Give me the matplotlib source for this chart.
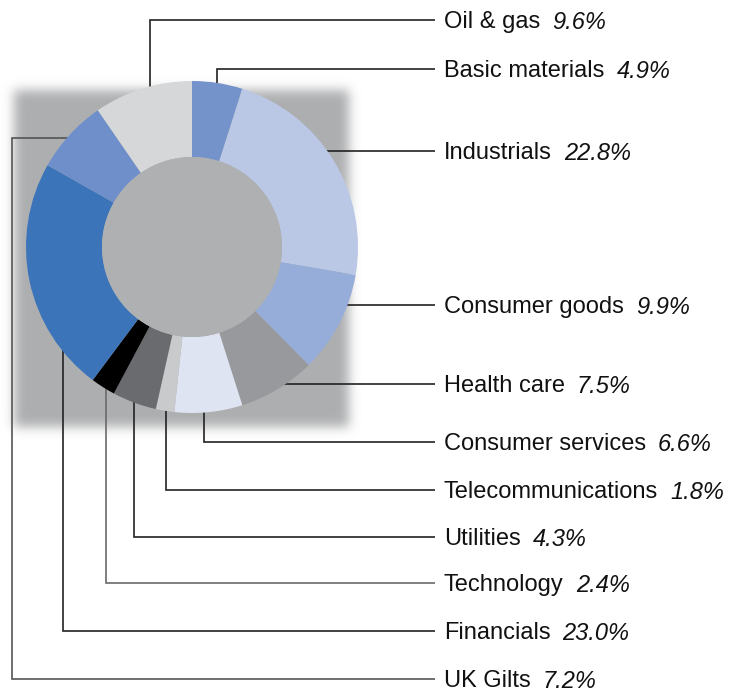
import numpy as np
import matplotlib
matplotlib.use("Agg")
import matplotlib.pyplot as plt
from matplotlib.patches import Circle

plt.rcParams['font.family'] = ['Liberation Sans', 'DejaVu Sans']

# sectors clockwise from 12 o'clock
sectors = ['Basic materials', 'Industrials', 'Consumer goods', 'Health care',
           'Consumer services', 'Telecommunications', 'Utilities', 'Technology',
           'Financials', 'UK Gilts', 'Oil & gas']
shares = [4.9, 22.8, 9.9, 7.5, 6.6, 1.8, 4.3, 2.4, 23.0, 7.2, 9.6]
colors = ['#7593cb', '#bac8e6', '#96acd9', '#98999c', '#dfe4f3', '#c9cacc',
          '#6a6b6f', '#000000', '#3b74b9', '#6f8fca', '#d6d7d9']

# label order down the right-hand side
label_order = ['Oil & gas', 'Basic materials', 'Industrials', 'Consumer goods',
               'Health care', 'Consumer services', 'Telecommunications',
               'Utilities', 'Technology', 'Financials', 'UK Gilts']

W, H = 739, 691
fig = plt.figure(figsize=(W / 100, H / 100), dpi=100)
ax = fig.add_axes([0, 0, 1, 1])

cx, cy, r_out, r_in = 192, 247, 166, 90

wedges, _ = ax.pie(shares, colors=colors, center=(cx, cy), radius=r_out,
                   startangle=-90, counterclock=True,  # y axis is flipped below
                   wedgeprops=dict(width=r_out - r_in, linewidth=0))
for w in wedges:
    w.set_zorder(3)
ax.add_patch(Circle((cx, cy), r_in, color='#afb0b2', zorder=4, linewidth=0))

ax.set_xlim(0, W)
ax.set_ylim(H, 0)
ax.set_aspect('equal')
ax.axis('off')

# soft grey square behind the ring
yy, xx = np.mgrid[0:H, 0:W]
mask = ((xx >= 14) & (xx <= 348) & (yy >= 90) & (yy <= 426)).astype(float)
k = np.arange(-18, 19)
kern = np.exp(-k ** 2 / (2 * 5.5 ** 2))
kern /= kern.sum()
mask = np.apply_along_axis(lambda v: np.convolve(v, kern, mode='same'), 1, mask)
mask = np.apply_along_axis(lambda v: np.convolve(v, kern, mode='same'), 0, mask)
shadow = np.zeros((H, W, 4))
shadow[..., :3] = np.array([0xad, 0xae, 0xb0]) / 255
shadow[..., 3] = mask
ax.imshow(shadow, extent=(0, W, H, 0), zorder=1, interpolation='bilinear')

# leader routes from the ring out to each label
label_x = 444
line_end = 435
label_y = [20, 69, 151, 305, 384, 442, 490, 537, 583, 631, 679]
routes = {
    'Oil & gas': [(150, 110)],
    'Basic materials': [(217, 100)],
    'Industrials': [(310, None)],
    'Consumer goods': [(330, None)],
    'Health care': [(270, None)],
    'Consumer services': [(204, 390)],
    'Telecommunications': [(166, 390)],
    'Utilities': [(134, 385)],
    'Technology': [(106, 375)],
    'Financials': [(63, 330)],
    'UK Gilts': [(80, 138), (12, 138)],
}
line_colors = {'Technology': '#6a6a6a', 'UK Gilts': '#555555'}

fig.canvas.draw()
renderer = fig.canvas.get_renderer()
pct = dict(zip(sectors, shares))

for name, y in zip(label_order, label_y):
    pts = [(x, y if y0 is None else y0) for x, y0 in routes[name]]
    # drop down (or up) to the label row, then run across to the text
    pts += [(pts[-1][0], y), (line_end, y)]
    xs, ys = zip(*pts)
    ax.plot(xs, ys, color=line_colors.get(name, '#222222'), lw=1.2,
            zorder=2, solid_capstyle='butt', solid_joinstyle='miter')

    t = ax.text(label_x, y + 2, name, fontsize=17, va='center', ha='left',
                color='#111111')
    bb = t.get_window_extent(renderer=renderer)
    x_val = ax.transData.inverted().transform((bb.x1, 0))[0] + 12
    ax.text(x_val, y + 2, f'{pct[name]:.1f}%', fontsize=17, style='italic',
            va='center', ha='left', color='#111111')

fig.savefig('out.png', dpi=100)
